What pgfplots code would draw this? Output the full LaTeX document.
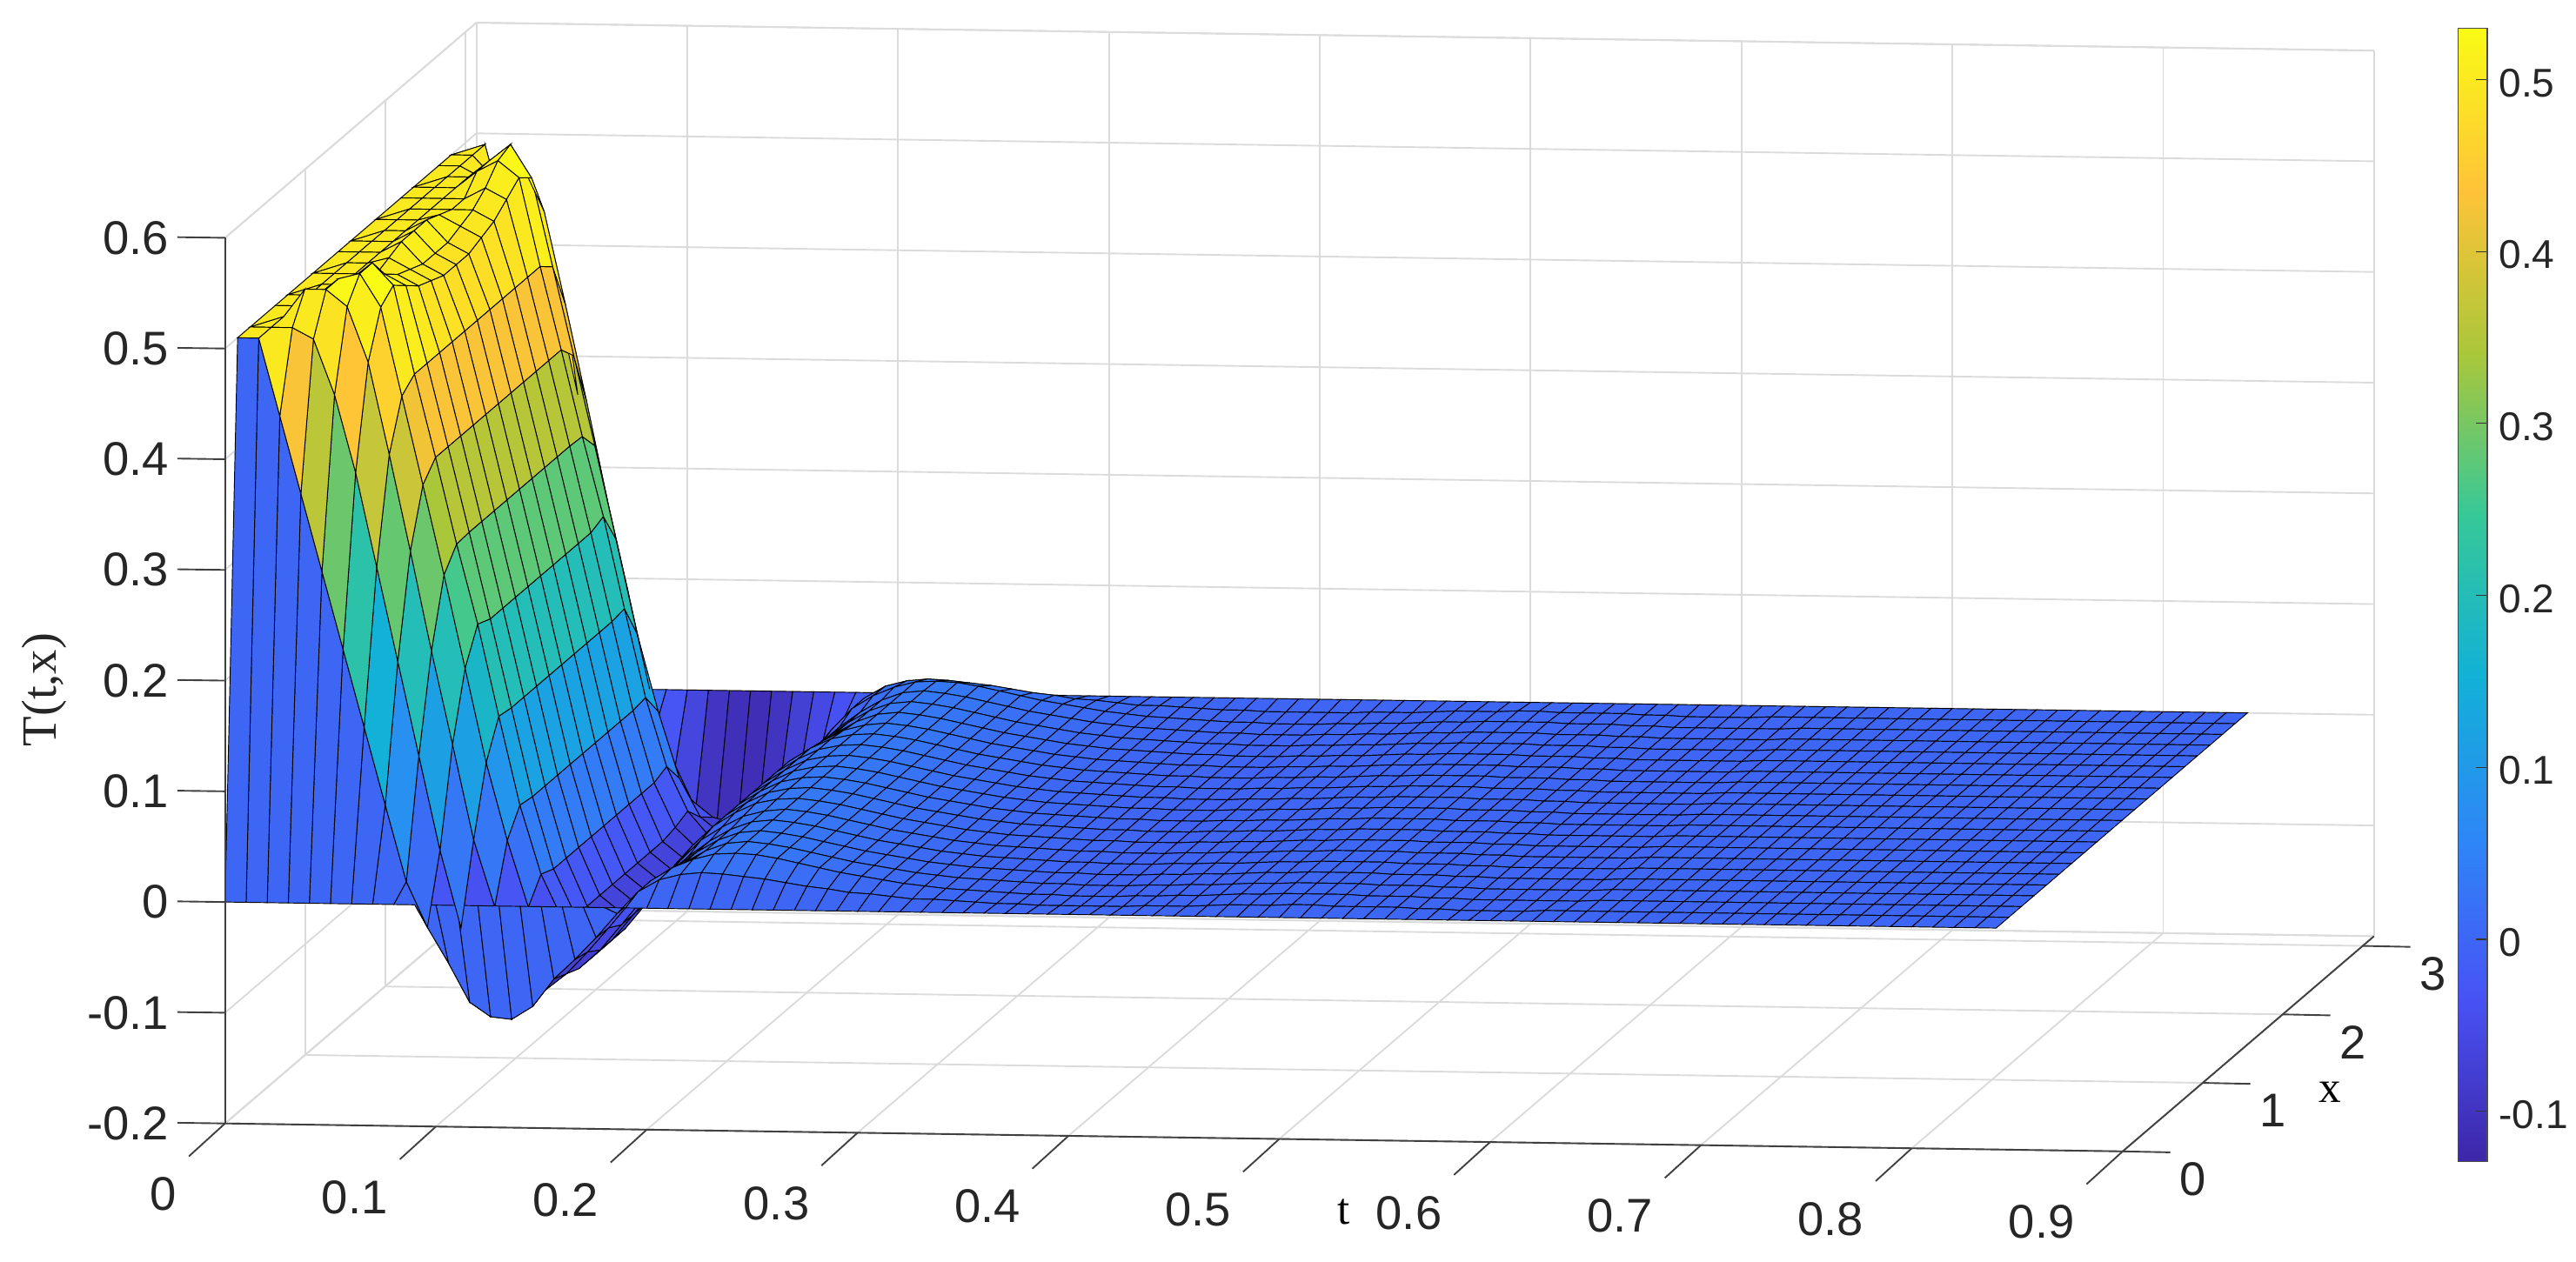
\documentclass[border=0pt]{standalone}
\usepackage{fontspec}
\setmainfont{Liberation Sans}
\newfontfamily\serifL{Liberation Serif}
\usepackage{pgfplots}
\pgfplotsset{compat=1.18}
\usetikzlibrary{calc}
\pgfplotsset{
 parulamap/.style={colormap={parula}{rgb=(0.2422,0.1504,0.6603) rgb=(0.2810,0.3228,0.9579) rgb=(0.1786,0.5289,0.9682) rgb=(0.0689,0.6948,0.8394) rgb=(0.2161,0.7843,0.5923) rgb=(0.6720,0.7793,0.2227) rgb=(0.9970,0.7659,0.2199) rgb=(0.9769,0.9839,0.0805)}},
}
\begin{document}
\begin{tikzpicture}
\begin{axis}[
 name=main,
 x={(641.7pt,-9.44pt)}, y={(24.35pt,20.85pt)}, z={(0pt,337pt)},
 xmin=0,xmax=0.9,ymin=0,ymax=3.1416,zmin=-0.2,zmax=0.6,
 xtick={0,0.1,0.2,0.3,0.4,0.5,0.6,0.7,0.8,0.9},
 xticklabels={0,0.1,0.2,0.3,0.4,0.5,0.6,0.7,0.8,0.9},
 ytick={0,1,2,3}, yticklabels={0,1,2,3},
 ztick={-0.2,-0.1,0,0.1,0.2,0.3,0.4,0.5,0.6},
 zticklabels={-0.2,-0.1,0,0.1,0.2,0.3,0.4,0.5,0.6},
 grid=major,
 grid style={draw=black!14,line width=0.5pt},
 axis line style={draw=black!14,line width=0.5pt},
 major tick length=0pt,
 tick style={draw=none},
 tick label style={font=\fontsize{14.4}{14.4}\selectfont,text=black!85,inner sep=0pt},
 x tick label style={anchor=east,xshift=-14.5pt,yshift=-21.5pt},
 y tick label style={anchor=center,xshift=21.5pt,yshift=-8.5pt},
 z tick label style={anchor=east,xshift=-17pt,yshift=0pt},
 parulamap,
 point meta min=-0.129, point meta max=0.53,
 clip=false,
 xlabel={t}, ylabel={x},
 x label style={font=\serifL\fontsize{13.5}{13.5}\selectfont,at={(axis cs:0,0,-0.2)},anchor=center,xshift=340.5pt,yshift=-27pt,sloped=false,rotate=0},
 y label style={font=\serifL\fontsize{13.5}{13.5}\selectfont,at={(axis cs:0,0,-0.2)},anchor=center,xshift=640.5pt,yshift=9.5pt,sloped=false,rotate=0},
]
\addplot3[surf,shader=flat corner,draw=black,line width=0.25pt,mesh/cols=85,z buffer=sort]
  table[row sep=\\,x expr={mod(\coordindex,85)*0.01},y expr={floor(\coordindex/85)*3.14159/20},z index=0,x index=0,y index=0,header=true]{
z\\
0\\0\\0\\0\\0\\0\\0\\0\\0\\0\\
0\\0\\0\\0\\0\\0\\0\\0\\0\\0\\
0\\0\\0\\0\\0\\0\\0\\0\\0\\0\\
0\\0\\0\\0\\0\\0\\0\\0\\0\\0\\
0\\0\\0\\0\\0\\0\\0\\0\\0\\0\\
0\\0\\0\\0\\0\\0\\0\\0\\0\\0\\
0\\0\\0\\0\\0\\0\\0\\0\\0\\0\\
0\\0\\0\\0\\0\\0\\0\\0\\0\\0\\
0\\0\\0\\0\\0\\
0.5\\0.5\\0.43\\0.36\\0.29\\0.22\\0.15\\0.08\\0.011\\-0.03\\
-0.062\\-0.097\\-0.11\\-0.112\\-0.1\\-0.075\\-0.057\\-0.037\\-0.015\\0.005\\
0.016\\0.021\\0.023\\0.022\\0.02\\0.018\\0.015\\0.012\\0.01\\0.007\\
0.006\\0.004\\0.002\\0.002\\0.001\\0\\-0.001\\-0.001\\-0.002\\-0.002\\
-0.002\\-0.002\\-0.002\\-0.001\\-0.001\\-0.001\\0\\0.001\\0.001\\0.001\\
0.002\\0.002\\0.001\\0.001\\0.001\\0.001\\0\\0\\-0.001\\-0.001\\
-0.001\\-0.001\\0\\0\\0\\0\\0\\0\\0\\0\\
0\\0\\0\\0\\0\\0\\0\\0\\0\\0\\
0\\0\\0\\0\\0\\
0.5\\0.5\\0.5\\0.49\\0.44\\0.37\\0.285\\0.2\\0.115\\0.03\\
-0.04\\-0.075\\-0.095\\-0.1\\-0.095\\-0.08\\-0.06\\-0.038\\-0.015\\0.005\\
0.017\\0.025\\0.03\\0.031\\0.03\\0.027\\0.023\\0.019\\0.015\\0.012\\
0.009\\0.006\\0.004\\0.002\\0.001\\0\\-0.001\\-0.002\\-0.002\\-0.003\\
-0.003\\-0.003\\-0.002\\-0.002\\-0.001\\-0.001\\0\\0.001\\0.001\\0.002\\
0.002\\0.002\\0.002\\0.001\\0.001\\0.001\\0\\0\\-0.001\\-0.001\\
-0.001\\-0.001\\-0.001\\-0.001\\0\\0\\0\\0\\0\\0\\
0\\0\\0\\0\\0\\0\\0\\0\\0\\0\\
0\\0\\0\\0\\0\\
0.5\\0.5\\0.525\\0.525\\0.51\\0.46\\0.377\\0.29\\0.2\\0.116\\
0.03\\-0.03\\-0.07\\-0.085\\-0.09\\-0.085\\-0.068\\-0.045\\-0.022\\-0.002\\
0.012\\0.023\\0.03\\0.032\\0.03\\0.027\\0.023\\0.019\\0.015\\0.012\\
0.009\\0.006\\0.004\\0.002\\0.001\\0\\-0.001\\-0.002\\-0.002\\-0.003\\
-0.003\\-0.003\\-0.002\\-0.002\\-0.001\\-0.001\\0\\0.001\\0.001\\0.002\\
0.002\\0.002\\0.002\\0.001\\0.001\\0.001\\0\\0\\-0.001\\-0.001\\
-0.001\\-0.001\\-0.001\\-0.001\\0\\0\\0\\0\\0\\0\\
0\\0\\0\\0\\0\\0\\0\\0\\0\\0\\
0\\0\\0\\0\\0\\
0.5\\0.5\\0.51\\0.525\\0.53\\0.5\\0.42\\0.34\\0.259\\0.175\\
0.09\\0.02\\-0.04\\-0.075\\-0.09\\-0.085\\-0.068\\-0.045\\-0.022\\-0.002\\
0.012\\0.023\\0.03\\0.032\\0.03\\0.027\\0.023\\0.019\\0.015\\0.012\\
0.009\\0.006\\0.004\\0.002\\0.001\\0\\-0.001\\-0.002\\-0.002\\-0.003\\
-0.003\\-0.003\\-0.002\\-0.002\\-0.001\\-0.001\\0\\0.001\\0.001\\0.002\\
0.002\\0.002\\0.002\\0.001\\0.001\\0.001\\0\\0\\-0.001\\-0.001\\
-0.001\\-0.001\\-0.001\\-0.001\\0\\0\\0\\0\\0\\0\\
0\\0\\0\\0\\0\\0\\0\\0\\0\\0\\
0\\0\\0\\0\\0\\
0.5\\0.5\\0.5\\0.515\\0.53\\0.51\\0.43\\0.355\\0.277\\0.205\\
0.122\\0.042\\-0.02\\-0.06\\-0.082\\-0.085\\-0.068\\-0.045\\-0.022\\-0.002\\
0.012\\0.023\\0.03\\0.032\\0.03\\0.027\\0.023\\0.019\\0.015\\0.012\\
0.009\\0.006\\0.004\\0.002\\0.001\\0\\-0.001\\-0.002\\-0.002\\-0.003\\
-0.003\\-0.003\\-0.002\\-0.002\\-0.001\\-0.001\\0\\0.001\\0.001\\0.002\\
0.002\\0.002\\0.002\\0.001\\0.001\\0.001\\0\\0\\-0.001\\-0.001\\
-0.001\\-0.001\\-0.001\\-0.001\\0\\0\\0\\0\\0\\0\\
0\\0\\0\\0\\0\\0\\0\\0\\0\\0\\
0\\0\\0\\0\\0\\
0.5\\0.5\\0.5\\0.5\\0.51\\0.5\\0.43\\0.355\\0.278\\0.2\\
0.12\\0.04\\-0.025\\-0.065\\-0.083\\-0.08\\-0.06\\-0.038\\-0.016\\0.003\\
0.015\\0.025\\0.03\\0.032\\0.03\\0.027\\0.023\\0.019\\0.015\\0.012\\
0.009\\0.006\\0.004\\0.002\\0.001\\0\\-0.001\\-0.002\\-0.002\\-0.003\\
-0.003\\-0.003\\-0.002\\-0.002\\-0.001\\-0.001\\0\\0.001\\0.001\\0.002\\
0.002\\0.002\\0.002\\0.001\\0.001\\0.001\\0\\0\\-0.001\\-0.001\\
-0.001\\-0.001\\-0.001\\-0.001\\0\\0\\0\\0\\0\\0\\
0\\0\\0\\0\\0\\0\\0\\0\\0\\0\\
0\\0\\0\\0\\0\\
0.5\\0.5\\0.5\\0.5\\0.5\\0.49\\0.43\\0.355\\0.278\\0.2\\
0.12\\0.04\\-0.025\\-0.068\\-0.083\\-0.075\\-0.055\\-0.033\\-0.012\\0.006\\
0.018\\0.027\\0.031\\0.032\\0.03\\0.027\\0.023\\0.019\\0.015\\0.012\\
0.009\\0.006\\0.004\\0.002\\0.001\\0\\-0.001\\-0.002\\-0.002\\-0.003\\
-0.003\\-0.003\\-0.002\\-0.002\\-0.001\\-0.001\\0\\0.001\\0.001\\0.002\\
0.002\\0.002\\0.002\\0.001\\0.001\\0.001\\0\\0\\-0.001\\-0.001\\
-0.001\\-0.001\\-0.001\\-0.001\\0\\0\\0\\0\\0\\0\\
0\\0\\0\\0\\0\\0\\0\\0\\0\\0\\
0\\0\\0\\0\\0\\
0.5\\0.5\\0.5\\0.505\\0.495\\0.485\\0.43\\0.355\\0.278\\0.2\\
0.12\\0.04\\-0.025\\-0.068\\-0.083\\-0.075\\-0.055\\-0.033\\-0.012\\0.006\\
0.018\\0.027\\0.031\\0.032\\0.03\\0.027\\0.023\\0.019\\0.015\\0.012\\
0.009\\0.006\\0.004\\0.002\\0.001\\0\\-0.001\\-0.002\\-0.002\\-0.003\\
-0.003\\-0.003\\-0.002\\-0.002\\-0.001\\-0.001\\0\\0.001\\0.001\\0.002\\
0.002\\0.002\\0.002\\0.001\\0.001\\0.001\\0\\0\\-0.001\\-0.001\\
-0.001\\-0.001\\-0.001\\-0.001\\0\\0\\0\\0\\0\\0\\
0\\0\\0\\0\\0\\0\\0\\0\\0\\0\\
0\\0\\0\\0\\0\\
0.5\\0.5\\0.5\\0.51\\0.49\\0.48\\0.43\\0.355\\0.278\\0.2\\
0.12\\0.04\\-0.025\\-0.068\\-0.083\\-0.075\\-0.055\\-0.033\\-0.012\\0.006\\
0.018\\0.027\\0.031\\0.032\\0.03\\0.027\\0.023\\0.019\\0.015\\0.012\\
0.009\\0.006\\0.004\\0.002\\0.001\\0\\-0.001\\-0.002\\-0.002\\-0.003\\
-0.003\\-0.003\\-0.002\\-0.002\\-0.001\\-0.001\\0\\0.001\\0.001\\0.002\\
0.002\\0.002\\0.002\\0.001\\0.001\\0.001\\0\\0\\-0.001\\-0.001\\
-0.001\\-0.001\\-0.001\\-0.001\\0\\0\\0\\0\\0\\0\\
0\\0\\0\\0\\0\\0\\0\\0\\0\\0\\
0\\0\\0\\0\\0\\
0.5\\0.5\\0.5\\0.51\\0.49\\0.48\\0.43\\0.355\\0.278\\0.2\\
0.12\\0.04\\-0.025\\-0.068\\-0.083\\-0.075\\-0.055\\-0.033\\-0.012\\0.006\\
0.018\\0.027\\0.031\\0.032\\0.03\\0.027\\0.023\\0.019\\0.015\\0.012\\
0.009\\0.006\\0.004\\0.002\\0.001\\0\\-0.001\\-0.002\\-0.002\\-0.003\\
-0.003\\-0.003\\-0.002\\-0.002\\-0.001\\-0.001\\0\\0.001\\0.001\\0.002\\
0.002\\0.002\\0.002\\0.001\\0.001\\0.001\\0\\0\\-0.001\\-0.001\\
-0.001\\-0.001\\-0.001\\-0.001\\0\\0\\0\\0\\0\\0\\
0\\0\\0\\0\\0\\0\\0\\0\\0\\0\\
0\\0\\0\\0\\0\\
0.5\\0.5\\0.5\\0.51\\0.49\\0.48\\0.43\\0.355\\0.278\\0.2\\
0.12\\0.04\\-0.025\\-0.068\\-0.083\\-0.075\\-0.055\\-0.033\\-0.012\\0.006\\
0.018\\0.027\\0.031\\0.032\\0.03\\0.027\\0.023\\0.019\\0.015\\0.012\\
0.009\\0.006\\0.004\\0.002\\0.001\\0\\-0.001\\-0.002\\-0.002\\-0.003\\
-0.003\\-0.003\\-0.002\\-0.002\\-0.001\\-0.001\\0\\0.001\\0.001\\0.002\\
0.002\\0.002\\0.002\\0.001\\0.001\\0.001\\0\\0\\-0.001\\-0.001\\
-0.001\\-0.001\\-0.001\\-0.001\\0\\0\\0\\0\\0\\0\\
0\\0\\0\\0\\0\\0\\0\\0\\0\\0\\
0\\0\\0\\0\\0\\
0.5\\0.5\\0.5\\0.505\\0.495\\0.485\\0.43\\0.355\\0.278\\0.2\\
0.12\\0.04\\-0.025\\-0.068\\-0.083\\-0.075\\-0.055\\-0.033\\-0.012\\0.006\\
0.018\\0.027\\0.031\\0.032\\0.03\\0.027\\0.023\\0.019\\0.015\\0.012\\
0.009\\0.006\\0.004\\0.002\\0.001\\0\\-0.001\\-0.002\\-0.002\\-0.003\\
-0.003\\-0.003\\-0.002\\-0.002\\-0.001\\-0.001\\0\\0.001\\0.001\\0.002\\
0.002\\0.002\\0.002\\0.001\\0.001\\0.001\\0\\0\\-0.001\\-0.001\\
-0.001\\-0.001\\-0.001\\-0.001\\0\\0\\0\\0\\0\\0\\
0\\0\\0\\0\\0\\0\\0\\0\\0\\0\\
0\\0\\0\\0\\0\\
0.5\\0.5\\0.5\\0.5\\0.5\\0.49\\0.43\\0.355\\0.278\\0.2\\
0.12\\0.04\\-0.025\\-0.068\\-0.083\\-0.075\\-0.055\\-0.033\\-0.012\\0.006\\
0.018\\0.027\\0.031\\0.032\\0.03\\0.027\\0.023\\0.019\\0.015\\0.012\\
0.009\\0.006\\0.004\\0.002\\0.001\\0\\-0.001\\-0.002\\-0.002\\-0.003\\
-0.003\\-0.003\\-0.002\\-0.002\\-0.001\\-0.001\\0\\0.001\\0.001\\0.002\\
0.002\\0.002\\0.002\\0.001\\0.001\\0.001\\0\\0\\-0.001\\-0.001\\
-0.001\\-0.001\\-0.001\\-0.001\\0\\0\\0\\0\\0\\0\\
0\\0\\0\\0\\0\\0\\0\\0\\0\\0\\
0\\0\\0\\0\\0\\
0.5\\0.5\\0.5\\0.5\\0.51\\0.5\\0.43\\0.355\\0.278\\0.2\\
0.12\\0.04\\-0.025\\-0.065\\-0.083\\-0.08\\-0.06\\-0.038\\-0.016\\0.003\\
0.015\\0.025\\0.03\\0.032\\0.03\\0.027\\0.023\\0.019\\0.015\\0.012\\
0.009\\0.006\\0.004\\0.002\\0.001\\0\\-0.001\\-0.002\\-0.002\\-0.003\\
-0.003\\-0.003\\-0.002\\-0.002\\-0.001\\-0.001\\0\\0.001\\0.001\\0.002\\
0.002\\0.002\\0.002\\0.001\\0.001\\0.001\\0\\0\\-0.001\\-0.001\\
-0.001\\-0.001\\-0.001\\-0.001\\0\\0\\0\\0\\0\\0\\
0\\0\\0\\0\\0\\0\\0\\0\\0\\0\\
0\\0\\0\\0\\0\\
0.5\\0.5\\0.5\\0.515\\0.525\\0.51\\0.43\\0.355\\0.277\\0.205\\
0.122\\0.042\\-0.02\\-0.06\\-0.082\\-0.085\\-0.068\\-0.045\\-0.022\\-0.002\\
0.012\\0.023\\0.03\\0.032\\0.03\\0.027\\0.023\\0.019\\0.015\\0.012\\
0.009\\0.006\\0.004\\0.002\\0.001\\0\\-0.001\\-0.002\\-0.002\\-0.003\\
-0.003\\-0.003\\-0.002\\-0.002\\-0.001\\-0.001\\0\\0.001\\0.001\\0.002\\
0.002\\0.002\\0.002\\0.001\\0.001\\0.001\\0\\0\\-0.001\\-0.001\\
-0.001\\-0.001\\-0.001\\-0.001\\0\\0\\0\\0\\0\\0\\
0\\0\\0\\0\\0\\0\\0\\0\\0\\0\\
0\\0\\0\\0\\0\\
0.5\\0.5\\0.5\\0.515\\0.53\\0.5\\0.42\\0.34\\0.259\\0.175\\
0.09\\0.02\\-0.04\\-0.075\\-0.09\\-0.085\\-0.068\\-0.045\\-0.022\\-0.002\\
0.012\\0.023\\0.03\\0.032\\0.03\\0.027\\0.023\\0.019\\0.015\\0.012\\
0.009\\0.006\\0.004\\0.002\\0.001\\0\\-0.001\\-0.002\\-0.002\\-0.003\\
-0.003\\-0.003\\-0.002\\-0.002\\-0.001\\-0.001\\0\\0.001\\0.001\\0.002\\
0.002\\0.002\\0.002\\0.001\\0.001\\0.001\\0\\0\\-0.001\\-0.001\\
-0.001\\-0.001\\-0.001\\-0.001\\0\\0\\0\\0\\0\\0\\
0\\0\\0\\0\\0\\0\\0\\0\\0\\0\\
0\\0\\0\\0\\0\\
0.5\\0.5\\0.49\\0.505\\0.5\\0.46\\0.377\\0.29\\0.2\\0.116\\
0.03\\-0.03\\-0.07\\-0.085\\-0.09\\-0.085\\-0.068\\-0.045\\-0.022\\-0.002\\
0.012\\0.023\\0.03\\0.032\\0.03\\0.027\\0.023\\0.019\\0.015\\0.012\\
0.009\\0.006\\0.004\\0.002\\0.001\\0\\-0.001\\-0.002\\-0.002\\-0.003\\
-0.003\\-0.003\\-0.002\\-0.002\\-0.001\\-0.001\\0\\0.001\\0.001\\0.002\\
0.002\\0.002\\0.002\\0.001\\0.001\\0.001\\0\\0\\-0.001\\-0.001\\
-0.001\\-0.001\\-0.001\\-0.001\\0\\0\\0\\0\\0\\0\\
0\\0\\0\\0\\0\\0\\0\\0\\0\\0\\
0\\0\\0\\0\\0\\
0.5\\0.5\\0.48\\0.47\\0.43\\0.37\\0.285\\0.2\\0.115\\0.03\\
-0.04\\-0.075\\-0.095\\-0.1\\-0.095\\-0.08\\-0.06\\-0.038\\-0.015\\0.005\\
0.017\\0.025\\0.03\\0.031\\0.03\\0.027\\0.023\\0.019\\0.015\\0.012\\
0.009\\0.006\\0.004\\0.002\\0.001\\0\\-0.001\\-0.002\\-0.002\\-0.003\\
-0.003\\-0.003\\-0.002\\-0.002\\-0.001\\-0.001\\0\\0.001\\0.001\\0.002\\
0.002\\0.002\\0.002\\0.001\\0.001\\0.001\\0\\0\\-0.001\\-0.001\\
-0.001\\-0.001\\-0.001\\-0.001\\0\\0\\0\\0\\0\\0\\
0\\0\\0\\0\\0\\0\\0\\0\\0\\0\\
0\\0\\0\\0\\0\\
0.5\\0.5\\0.43\\0.36\\0.29\\0.22\\0.15\\0.08\\0.011\\-0.03\\
-0.062\\-0.097\\-0.11\\-0.112\\-0.1\\-0.075\\-0.057\\-0.037\\-0.015\\0.005\\
0.016\\0.021\\0.023\\0.022\\0.02\\0.018\\0.015\\0.012\\0.01\\0.007\\
0.006\\0.004\\0.002\\0.002\\0.001\\0\\-0.001\\-0.001\\-0.002\\-0.002\\
-0.002\\-0.002\\-0.002\\-0.001\\-0.001\\-0.001\\0\\0.001\\0.001\\0.001\\
0.002\\0.002\\0.001\\0.001\\0.001\\0.001\\0\\0\\-0.001\\-0.001\\
-0.001\\-0.001\\0\\0\\0\\0\\0\\0\\0\\0\\
0\\0\\0\\0\\0\\0\\0\\0\\0\\0\\
0\\0\\0\\0\\0\\
0\\0\\0\\0\\0\\0\\0\\0\\0\\0\\
0\\0\\0\\0\\0\\0\\0\\0\\0\\0\\
0\\0\\0\\0\\0\\0\\0\\0\\0\\0\\
0\\0\\0\\0\\0\\0\\0\\0\\0\\0\\
0\\0\\0\\0\\0\\0\\0\\0\\0\\0\\
0\\0\\0\\0\\0\\0\\0\\0\\0\\0\\
0\\0\\0\\0\\0\\0\\0\\0\\0\\0\\
0\\0\\0\\0\\0\\0\\0\\0\\0\\0\\
0\\0\\0\\0\\0\\
};
\coordinate (O) at (axis cs:0,0,-0.2);
\draw[draw=black!75,line width=0.5pt] (axis cs:0,0,-0.2)--(axis cs:0.9,0,-0.2)--(axis cs:0.9,3.1416,-0.2);
\draw[draw=black!75,line width=0.5pt] (axis cs:0,0,-0.2)--(axis cs:0,0,0.6);
\pgfplotsinvokeforeach{0,0.1,0.2,0.3,0.4,0.5,0.6,0.7,0.8,0.9}{\draw[draw=black!75,line width=0.5pt] (axis cs:#1,0,-0.2)--++(-11pt,-10pt);}
\pgfplotsinvokeforeach{0,1,2,3}{\draw[draw=black!75,line width=0.5pt] (axis cs:0.9,#1,-0.2)--++(14.5pt,-0.3pt);}
\pgfplotsinvokeforeach{-0.2,-0.1,0,0.1,0.2,0.3,0.4,0.5,0.6}{\draw[draw=black!75,line width=0.5pt] (axis cs:0,0,#1)--++(-14.5pt,0.2pt);}
\node[rotate=90,font=\serifL\fontsize{15}{15}\selectfont,text=black!85,xshift=132pt,yshift=55pt,anchor=center] at (axis cs:0,0,-0.2) {T(t,x)};
\end{axis}
\begin{axis}[
 at={($(O)+(679.5pt,-11.5pt)$)},anchor=south west,
 scale only axis,width=9pt,height=345pt,
 xmin=0,xmax=1,ymin=-0.129,ymax=0.53,
 xtick=\empty,
 ytick={-0.1,0,0.1,0.2,0.3,0.4,0.5},
 yticklabels={-0.1,0,0.1,0.2,0.3,0.4,0.5},
 ytick pos=right, yticklabel pos=right, tick align=inside,
 axis line style={draw=black!70,line width=0.3pt},
 axis on top,
 tick label style={font=\fontsize{12.2}{12.2}\selectfont,text=black!85,yshift=-1pt},
 ytick style={draw=black!80,line width=0.3pt,/pgfplots/major tick length=3.5pt},
 parulamap,
 point meta min=-0.129, point meta max=0.53,
]
\addplot[surf,shader=interp,point meta=y,mesh/cols=2] table[row sep=\\]{
x y\\0 -0.129\\1 -0.129\\0 -0.0349\\1 -0.0349\\0 0.0594\\1 0.0594\\0 0.1537\\1 0.1537\\0 0.248\\1 0.248\\0 0.3423\\1 0.3423\\0 0.4366\\1 0.4366\\0 0.53\\1 0.53\\
};
\end{axis}
\pgfresetboundingbox
\useasboundingbox ($(O)+(-68.5pt,-42pt)$) rectangle ++(784pt,384pt);
\end{tikzpicture}
\end{document}
